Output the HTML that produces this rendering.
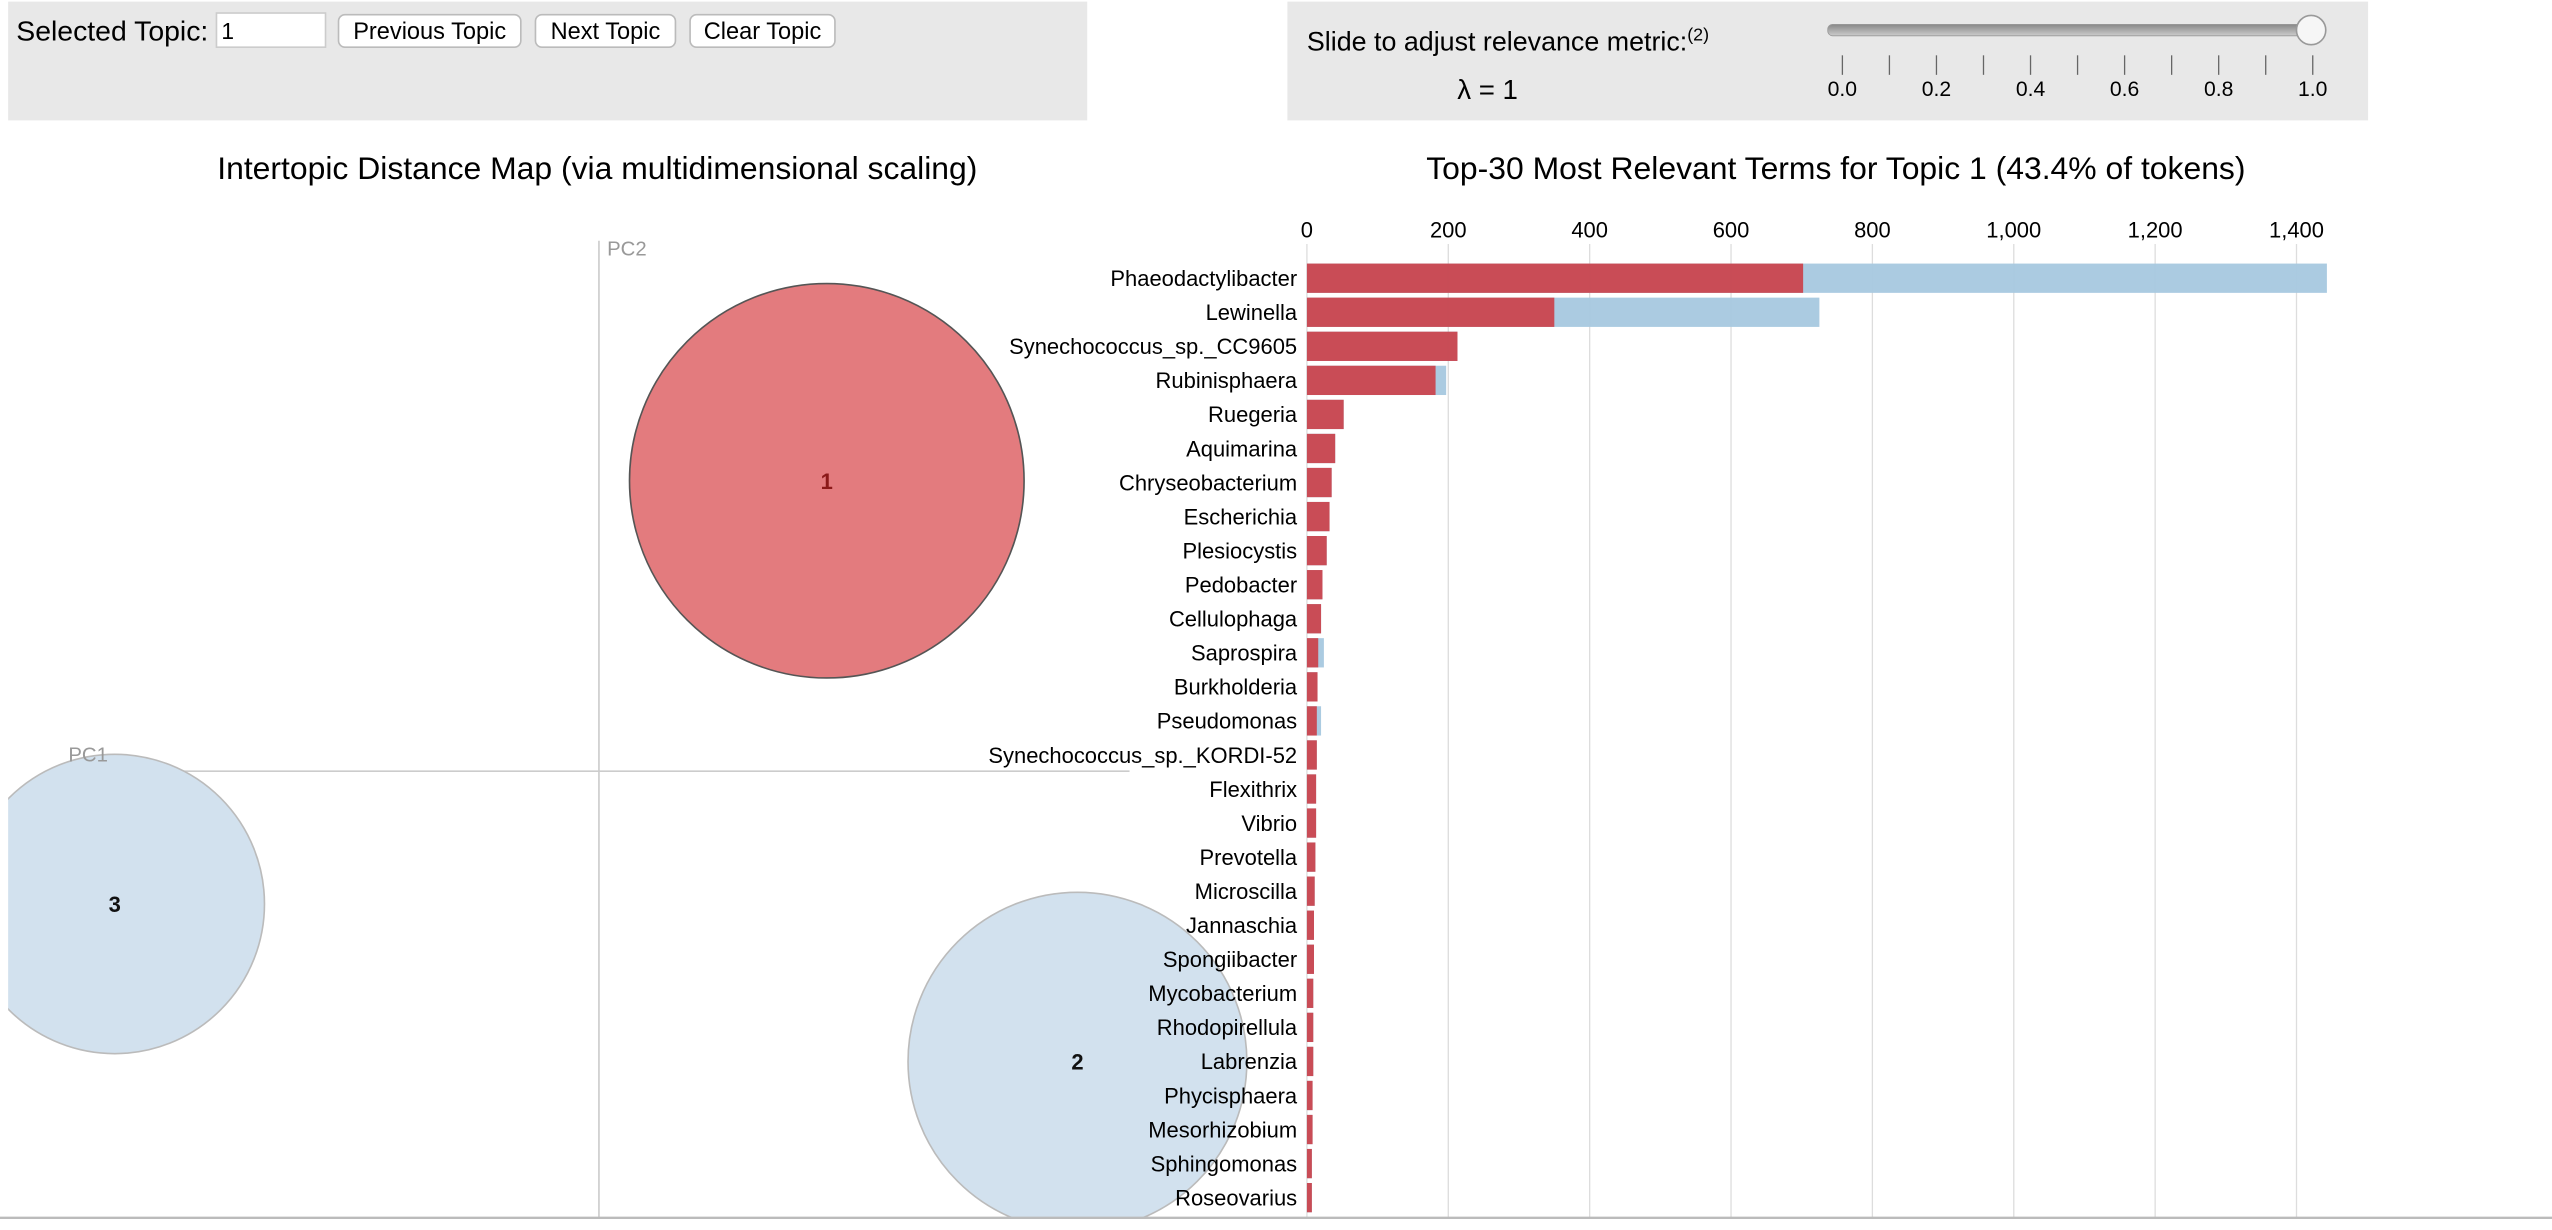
<!DOCTYPE html>
<html><head><meta charset="utf-8"><style>
html,body{margin:0;padding:0;background:#fff;overflow:hidden}
svg{display:block;font-family:"Liberation Sans",Arial,sans-serif}
</style></head><body>
<svg id="root" width="2552" height="1230" viewBox="0 0 1568 756" preserveAspectRatio="none" xmlns="http://www.w3.org/2000/svg">
<defs>
<clipPath id="mdsClip"><rect x="5" y="120" width="1000" height="628"/></clipPath>
<linearGradient id="track" x1="0" y1="0" x2="0" y2="1"><stop offset="0" stop-color="#888"/><stop offset="1" stop-color="#ccc"/></linearGradient>
</defs>
<g>
<rect x="5" y="1" width="663" height="73" fill="#e8e8e8"/>
<text x="10" y="25" font-size="17" textLength="118" lengthAdjust="spacingAndGlyphs" fill="#000">Selected Topic:</text>
<rect x="133" y="8" width="67" height="21" fill="#fff" stroke="#ccc"/>
<text x="136" y="24" font-size="14">1</text>
<g><rect x="208" y="9" width="112" height="20" rx="4" fill="#fff" stroke="#bbb"/><text x="264" y="24" font-size="14.5" text-anchor="middle">Previous Topic</text></g>
<g><rect x="329" y="9" width="86" height="20" rx="4" fill="#fff" stroke="#bbb"/><text x="372" y="24" font-size="14.5" text-anchor="middle">Next Topic</text></g>
<g><rect x="424" y="9" width="89" height="20" rx="4" fill="#fff" stroke="#bbb"/><text x="468.5" y="24" font-size="14.5" text-anchor="middle">Clear Topic</text></g>
</g>
<g>
<rect x="791" y="1" width="664" height="73" fill="#e8e8e8"/>
<text x="803" y="31" font-size="16.5">Slide to adjust relevance metric:<tspan font-size="11" dy="-6">(2)</tspan></text>
<rect x="1123" y="15" width="298" height="7" rx="3" fill="url(#track)" stroke="#999" stroke-width="0.5"/>
<circle cx="1420" cy="18.5" r="9" fill="#f6f6f6" stroke="#999"/>
<g id="sliderTicks" stroke="#666" stroke-width="0.8"></g>
<g id="sliderLabels" font-size="13" text-anchor="middle"></g>
<text x="914" y="61" font-size="17" text-anchor="middle">λ = 1</text>
</g>
<text x="367" y="110" font-size="19.6" text-anchor="middle">Intertopic Distance Map (via multidimensional scaling)</text>
<text x="1128" y="110" font-size="19.6" text-anchor="middle">Top-30 Most Relevant Terms for Topic 1 (43.4% of tokens)</text>
<g clip-path="url(#mdsClip)">
<line x1="368" y1="148" x2="368" y2="748" stroke="#ccc"/>
<line x1="42" y1="474" x2="694" y2="474" stroke="#ccc"/>
<g id="circles"></g>
</g>
<text x="373" y="157" font-size="12.5" fill="#999">PC2</text>
<text x="42" y="468" font-size="12.5" fill="#999">PC1</text>
<g id="barchart"></g>
<line x1="0" y1="748.5" x2="1568" y2="748.5" stroke="#bbb" stroke-width="1.5"/>
</svg>
<script>
const sliderTickValues = [0,0.1,0.2,0.3,0.4,0.5,0.6,0.7,0.8,0.9,1.0];
const sliderTickLabels = ["0.0","0.2","0.4","0.6","0.8","1.0"];
const topicIds = ["1","2","3"];
const topicX = [0.08, 0.168, -0.17];
const topicY = [0.105, -0.105, -0.048];
const topicSize = [43.4, 32, 25];
const terms = ["Phaeodactylibacter","Lewinella","Synechococcus_sp._CC9605","Rubinisphaera","Ruegeria","Aquimarina","Chryseobacterium","Escherichia","Plesiocystis","Pedobacter","Cellulophaga","Saprospira","Burkholderia","Pseudomonas","Synechococcus_sp._KORDI-52","Flexithrix","Vibrio","Prevotella","Microscilla","Jannaschia","Spongiibacter","Mycobacterium","Rhodopirellula","Labrenzia","Phycisphaera","Mesorhizobium","Sphingomonas","Roseovarius"];
const overallFreq = [1443,725,213,197,52,40,35,32,28,22,20,24,15,20,14,13,13,12,11,10,10,9,9,9,8,8,7,7];
const topicFreq = [702,350,213,182,52,40,35,32,28,22,20,16,15,14,14,13,13,12,11,10,10,9,9,9,8,8,7,7];
const xTicks = [0,200,400,600,800,1000,1200,1400];
const xTickLabels = ["0","200","400","600","800","1,000","1,200","1,400"];
const NS="http://www.w3.org/2000/svg";
function mk(tag,attrs,parent){const e=document.createElementNS(NS,tag);for(const k in attrs)e.setAttribute(k,attrs[k]);parent.appendChild(e);return e;}
const sT=document.getElementById('sliderTicks'), sL=document.getElementById('sliderLabels');
const sx=v=>1132+v*289;
sliderTickValues.forEach(v=>{const l=mk('line',{x1:sx(v),x2:sx(v),y1:34,y2:46},sT);

});
sliderTickLabels.forEach(t=>{const e=mk('text',{x:sx(parseFloat(t)),y:59},sL);e.textContent=t;

});
const mx=v=>368+v*1750, my=v=>474-v*1700, rr=s=>Math.sqrt(s)*18.4;
const cg=document.getElementById('circles');
[2,1,0].forEach(i=>{
 const sel=i===0;
 const c=mk('circle',{cx:mx(topicX[i]),cy:my(topicY[i]),r:rr(topicSize[i]),fill:sel?'#e37b7e':'#d2e1ee',stroke:sel?'#555':'#bbb','stroke-width':1},cg);
 
 
 const t=mk('text',{x:mx(topicX[i]),y:my(topicY[i])+5,'font-size':13.5,'font-weight':'bold','text-anchor':'middle',fill:sel?'#8b1a1a':'#111'},cg);
 t.textContent=topicIds[i];
 
 
});
const bc=document.getElementById('barchart');
const bx=v=>803+v*0.4343, by=i=>171+i*20.93;
xTicks.forEach((v,i)=>{
 const g=mk('line',{x1:bx(v),x2:bx(v),y1:150,y2:748,stroke:'#ddd','stroke-width':0.8},bc);
 
 
 const t=mk('text',{x:bx(v),y:146,'font-size':13.5,'text-anchor':'middle'},bc);
 t.textContent=xTickLabels[i];
 
 
});
terms.forEach((term,i)=>{
 const b1=mk('rect',{x:bx(0),y:by(i)-9,width:bx(overallFreq[i])-bx(0),height:18,fill:'#a6c8df','fill-opacity':0.95},bc);
 
 
 const b2=mk('rect',{x:bx(0),y:by(i)-9,width:bx(topicFreq[i])-bx(0),height:18,fill:'#c94752','fill-opacity':0.97},bc);
 
 
 const t=mk('text',{x:797,y:by(i)+4.8,'font-size':13.5,'text-anchor':'end'},bc);
 t.textContent=term;
 
 
});
</script>
</body></html>
